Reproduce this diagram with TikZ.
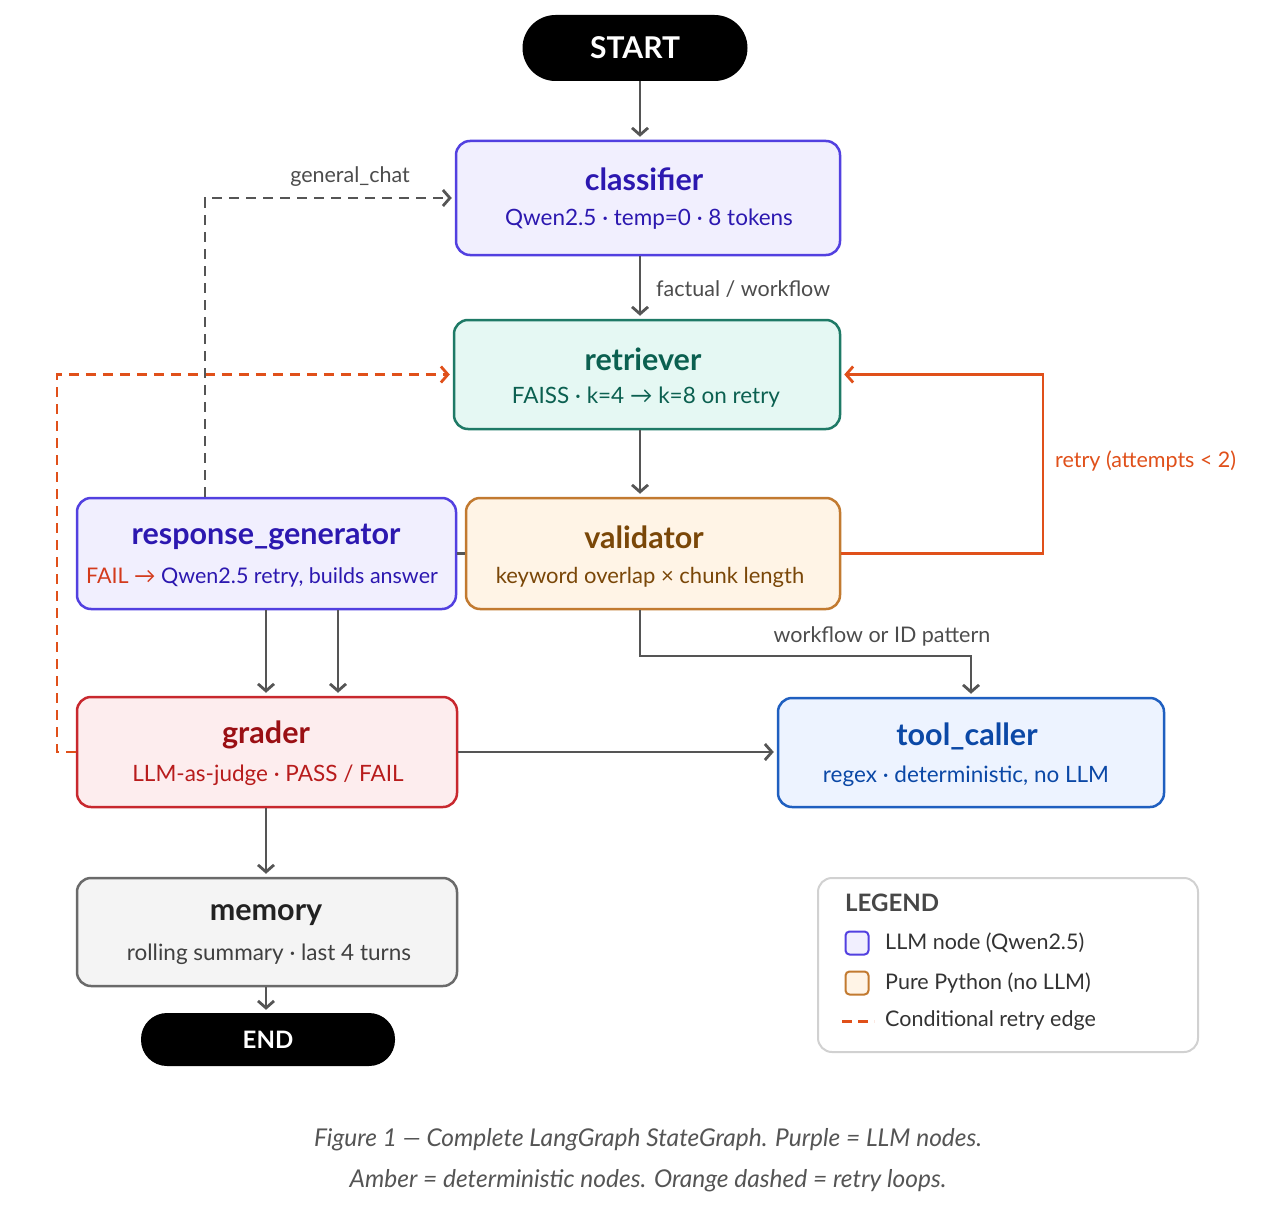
\documentclass[tikz,border=0pt]{standalone}
\usepackage{fontspec}
\setmainfont{Lato}
\usetikzlibrary{arrows.meta}
\definecolor{purB}{HTML}{5240E0}
\definecolor{purF}{HTML}{F1EFFE}
\definecolor{purT}{HTML}{2C18B0}
\definecolor{tealB}{HTML}{1E7A66}
\definecolor{tealF}{HTML}{E5F8F3}
\definecolor{tealT}{HTML}{0B6050}
\definecolor{ambB}{HTML}{C27A30}
\definecolor{ambF}{HTML}{FFF4E6}
\definecolor{ambT}{HTML}{7A4708}
\definecolor{redB}{HTML}{C8282E}
\definecolor{redF}{HTML}{FDEDEE}
\definecolor{redT}{HTML}{9A1014}
\definecolor{redS}{HTML}{B81C1C}
\definecolor{bluB}{HTML}{1F5FC0}
\definecolor{bluF}{HTML}{EDF3FF}
\definecolor{bluT}{HTML}{0B48A6}
\definecolor{memB}{HTML}{6A6A6A}
\definecolor{memF}{HTML}{F4F4F4}
\definecolor{memT}{HTML}{222222}
\definecolor{edge}{HTML}{555555}
\definecolor{orng}{HTML}{E0501A}
\definecolor{failR}{HTML}{D33A1C}
\definecolor{capT}{HTML}{555555}
\begin{document}
\begin{tikzpicture}[x=1pt,y=-1pt,
  gbox/.style={rectangle, rounded corners=14pt, line width=2.5pt, inner sep=0pt},
  pill/.style={rectangle, fill=black, inner sep=0pt, text=white, font=\fontsize{30}{34}\selectfont\bfseries},
  ttl/.style={font=\fontsize{30.5}{34}\selectfont\bfseries, inner sep=0pt},
  sub/.style={font=\fontsize{22.5}{26}\selectfont, inner sep=0pt},
  elabel/.style={font=\fontsize{21.5}{25}\selectfont, text=edge!90!black, inner sep=0pt},
  garrow/.style={draw=edge, line width=2.8pt, -{Straight Barb[length=7pt,width=16pt]}, shorten >=3pt},
  oarrow/.style={draw=orng, line width=2.8pt, -{Straight Barb[length=7pt,width=16pt]}, shorten >=3pt},
  gdash/.style={dash pattern=on 10pt off 7pt},
  legtext/.style={font=\fontsize{21.5}{25}\selectfont, text=black!80, inner sep=0pt, anchor=west},
  capt/.style={font=\fontsize{24.5}{28}\selectfont\itshape, text=capT, inner sep=0pt}
]
\useasboundingbox[fill=white] (0,0) rectangle (1284,1225);

% coordinates for vertical lanes
\coordinate (cx) at (640,0);
\coordinate (c266) at (266,0);
\coordinate (c338) at (338,0);
\coordinate (gx) at (205,0);
\coordinate (ll) at (57,0);
\coordinate (rr) at (1043,0);
\coordinate (vt) at (640,656);

% nodes
\node[pill, rounded corners=33pt, minimum width=225pt, minimum height=66pt] (start) at (635,48) {START};

\node[gbox, draw=purB, fill=purF, minimum width=384pt, minimum height=114pt] (classifier) at (648,198) {};
\node[ttl, text=purT] (classifierT) at (644,179) {classifier};
\node[sub, text=purT] (classifierS) at (649,219) {Qwen2.5 · temp=0 · 8 tokens};

\node[gbox, draw=tealB, fill=tealF, minimum width=386pt, minimum height=109pt] (retriever) at (647,374.5) {};
\node[ttl, text=tealT] (retrieverT) at (643,359) {retriever};
\node[sub, text=tealT] (retrieverS) at (646,397) {FAISS · k=4 → k=8 on retry};

\node[gbox, draw=purB, fill=purF, minimum width=379pt, minimum height=111pt] (resp) at (266.5,553.5) {};
\node[ttl, text=purT] (respT) at (266,537) {response\_generator};
\node[sub, text=purT, font=\fontsize{21.5}{25}\selectfont] (respS) at (262,577) {\textcolor{failR}{FAIL →} Qwen2.5 retry, builds answer};

\node[gbox, draw=ambB, fill=ambF, minimum width=374pt, minimum height=111pt] (validator) at (653,553.5) {};
\node[ttl, text=ambT] (validatorT) at (644,537) {validator};
\node[sub, text=ambT, font=\fontsize{22}{26}\selectfont] (validatorS) at (650,577) {keyword overlap × chunk length};

\node[gbox, draw=redB, fill=redF, minimum width=380pt, minimum height=110pt] (grader) at (267,752) {};
\node[ttl, text=redT] (graderT) at (266,735) {grader};
\node[sub, text=redS] (graderS) at (268,775) {LLM-as-judge · PASS / FAIL};

\node[gbox, draw=bluB, fill=bluF, minimum width=386pt, minimum height=109pt] (tool) at (971,752.5) {};
\node[ttl, text=bluT] (toolT) at (967,736) {tool\_caller};
\node[sub, text=bluT] (toolS) at (966,776) {regex · deterministic, no LLM};

\node[gbox, draw=memB, fill=memF, minimum width=380pt, minimum height=108pt] (memory) at (267,932) {};
\node[ttl, text=memT] (memoryT) at (266,915) {memory};
\node[sub, text=black!75] (memoryS) at (269,954) {rolling summary · last 4 turns};

\node[pill, rounded corners=26pt, minimum width=254pt, minimum height=53pt, font=\fontsize{24}{28}\selectfont\bfseries] (end) at (268,1039.5) {END};

% connectors
\draw[garrow] (start.south -| cx) -- (classifier.north -| cx);
\draw[garrow] (classifier.south -| cx) -- (retriever.north -| cx);
\node[elabel, anchor=west] (lfact) at (656,289) {factual / workflow};
\draw[garrow] (retriever.south -| cx) -- (validator.north -| cx);
\draw[draw=edge, line width=2.5pt] (validator.west) -- (resp.east);
\draw[garrow] (resp.south -| c266) -- (grader.north -| c266);
\draw[garrow] (resp.south -| c338) -- (grader.north -| c338);
\draw[garrow] (grader.east) -- (grader.east -| tool.west);
\draw[garrow] (validator.south -| vt) -- (vt) -| (tool.north);
\node[elabel] (lwf) at (882,636) {workflow or ID pattern};
\draw[oarrow] (validator.east) -- (validator.east -| rr) -- (retriever.east -| rr) -- (retriever.east);
\node[elabel, text=orng, anchor=west] (lretry) at (1055,461) {retry (attempts < 2)};
\draw[oarrow, gdash] (grader.west) -- (grader.west -| ll) -- (retriever.west -| ll) -- (retriever.west);
\draw[garrow, gdash] (resp.north -| gx) -- (classifier.west -| gx) -- (classifier.west);
\node[elabel] (lgc) at (350,177) {general\_chat};
\draw[garrow] (grader.south -| c266) -- (memory.north -| c266);
\draw[garrow] (memory.south -| c266) -- (end.north -| c266);

% legend
\node[rectangle, rounded corners=14pt, draw=black!18, line width=2pt, fill=white, minimum width=380pt, minimum height=174pt] (legend) at (1008,965) {};
\node[font=\fontsize{24}{28}\selectfont\bfseries, text=black!72, inner sep=0pt, anchor=west] (legT) at (845,903) {LEGEND};
\node[rectangle, rounded corners=4pt, draw=purB, fill=purF, line width=2pt, minimum size=23pt, inner sep=0pt] (legsq1) at (857,943) {};
\node[legtext] (leg1) at (885,943) {LLM node (Qwen2.5)};
\node[rectangle, rounded corners=4pt, draw=ambB, fill=ambF, line width=2pt, minimum size=23pt, inner sep=0pt] (legsq2) at (857,983) {};
\node[legtext] (leg2) at (885,983) {Pure Python (no LLM)};
\coordinate (lda) at (842,1021);
\coordinate (ldb) at (874,1021);
\draw[draw=orng, line width=3pt, dash pattern=on 10pt off 6pt] (lda) -- (ldb);
\node[legtext] (leg3) at (885,1021) {Conditional retry edge};

% caption
\node[capt] (cap1) at (648,1140) {Figure 1 — Complete LangGraph StateGraph. Purple = LLM nodes.};
\node[capt] (cap2) at (648,1181) {Amber = deterministic nodes. Orange dashed = retry loops.};
\end{tikzpicture}
\end{document}
